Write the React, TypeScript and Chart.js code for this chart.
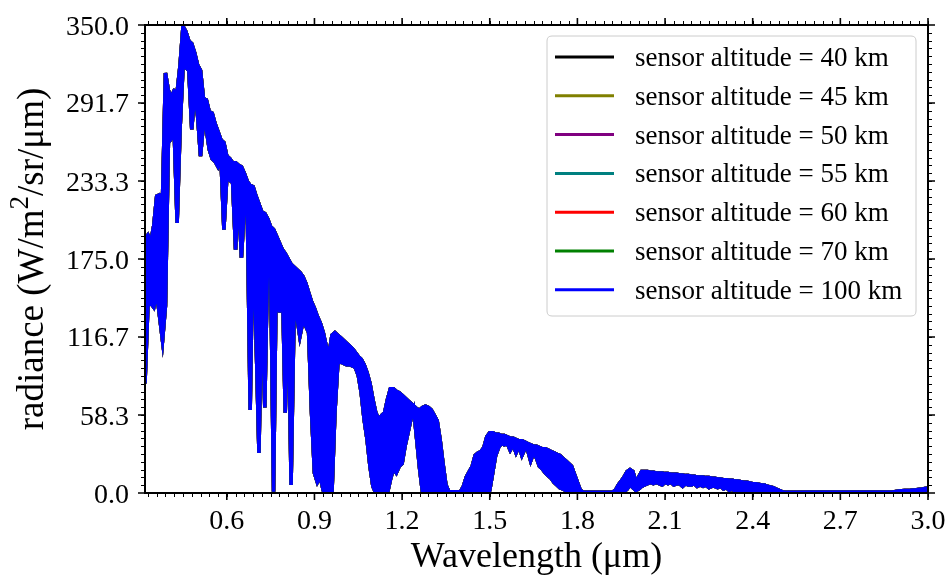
import React, { useEffect, useRef } from "react";
import { Chart, registerables } from "chart.js";

Chart.register(...registerables);

// Wavelength samples (µm) and the upper / lower envelope of the dense spectrum (W/m²/sr/µm)
const wavelength = [
  0.32, 0.33, 0.34, 0.35, 0.36, 0.37, 0.38, 0.39, 0.40, 0.41, 0.42, 0.43, 0.44, 0.45, 0.46, 0.47, 0.48, 0.49,
  0.50, 0.51, 0.52, 0.53, 0.54, 0.55, 0.56, 0.57, 0.58, 0.59, 0.60, 0.61, 0.62, 0.63, 0.64, 0.65, 0.66, 0.67,
  0.68, 0.69, 0.70, 0.71, 0.72, 0.73, 0.74, 0.75, 0.76, 0.77, 0.78, 0.79, 0.80, 0.81, 0.82, 0.83, 0.84, 0.85,
  0.86, 0.87, 0.88, 0.89, 0.90, 0.91, 0.92, 0.93, 0.94, 0.95, 0.96, 0.97, 0.98, 0.99, 1.00, 1.01, 1.02, 1.03,
  1.04, 1.05, 1.06, 1.07, 1.08, 1.09, 1.10, 1.11, 1.12, 1.13, 1.14, 1.15, 1.16, 1.17, 1.18, 1.19, 1.20, 1.21,
  1.22, 1.23, 1.24, 1.25, 1.26, 1.27, 1.28, 1.29, 1.30, 1.31, 1.32, 1.33, 1.34, 1.35, 1.36, 1.40, 1.41, 1.42,
  1.43, 1.44, 1.45, 1.46, 1.47, 1.48, 1.49, 1.50, 1.51, 1.52, 1.53, 1.54, 1.55, 1.56, 1.57, 1.58, 1.59, 1.60,
  1.61, 1.62, 1.63, 1.64, 1.65, 1.66, 1.67, 1.68, 1.69, 1.70, 1.71, 1.72, 1.73, 1.74, 1.75, 1.76, 1.77, 1.78,
  1.79, 1.80, 1.81, 1.82, 1.92, 1.93, 1.94, 1.95, 1.96, 1.97, 1.98, 1.99, 2.00, 2.01, 2.02, 2.03, 2.04, 2.05,
  2.06, 2.07, 2.08, 2.09, 2.10, 2.11, 2.12, 2.13, 2.14, 2.15, 2.16, 2.17, 2.18, 2.19, 2.20, 2.21, 2.22, 2.23,
  2.24, 2.25, 2.26, 2.27, 2.28, 2.29, 2.30, 2.31, 2.32, 2.33, 2.34, 2.35, 2.36, 2.37, 2.38, 2.39, 2.40, 2.41,
  2.42, 2.43, 2.44, 2.45, 2.46, 2.47, 2.48, 2.49, 2.50, 2.51, 2.60, 2.70, 2.80, 2.88, 2.90, 2.92, 2.94, 2.96,
  2.98, 3.00,
];

const radianceUpper = [
  190, 193, 188, 200, 222, 223, 221, 314, 301, 296, 301, 300, 320, 349, 345, 338, 336, 329,
  320, 316, 295, 294, 285, 284, 276, 270, 264, 262, 252, 250, 247, 247, 245, 244, 239, 233,
  230, 229, 222, 216, 210, 209, 205, 199, 197, 192, 187, 182, 179, 175, 171, 169, 167, 165,
  162, 157, 150, 143, 138, 132, 127, 120, 110, 104, 118, 120, 118, 116, 114, 112, 110, 108,
  105, 102, 100, 96, 90, 82, 70, 60, 55, 58, 60, 70, 78, 78, 76, 75, 73, 71,
  69, 67, 65, 63, 62, 64, 65, 64, 62, 58, 54, 40, 22, 6, 1, 1, 5, 12,
  16, 20, 28, 30, 31, 34, 42, 45, 45, 44, 44, 43, 43, 42, 41, 41, 40, 39,
  39, 38, 37, 36, 35, 35, 34, 33, 33, 32, 31, 30, 29, 28, 26, 24, 22, 20,
  14, 8, 2, 0.6, 0.6, 2, 6, 9, 12, 16, 17.5, 16, 8, 12, 16, 16, 16, 15.5,
  15.5, 15, 15, 15, 14.5, 14.5, 14, 14, 14, 13.5, 13.5, 13, 13, 12.5, 12.5, 12, 12, 12,
  11.5, 11.5, 11, 11, 10.5, 10.5, 10, 10, 9.5, 9.5, 9, 9, 8.5, 8, 8, 7.5, 7, 7,
  6.5, 6, 6, 5, 4.5, 4, 3, 2, 1, 0.6, 0.6, 0.6, 0.6, 0.7, 1.5, 1.8, 2.0, 2.4,
  3.0, 3.7,
];

const radianceLower = [
  82, 140, 142, 139, 150, 132, 114, 140, 262, 265, 270, 202, 272, 318, 318, 316, 272, 300,
  282, 252, 276, 272, 257, 250, 248, 244, 250, 197, 236, 234, 232, 182, 226, 176, 214, 214,
  62, 200, 117, 30, 150, 64, 180, 170, 1, 178, 135, 160, 60, 150, 6, 132, 132, 117,
  128, 125, 120, 60, 15, 8, 12, 2, 0, 0, 0, 60, 97, 98, 97, 96, 96, 95,
  94, 88, 75, 55, 40, 20, 5, 0, 0, 0, 0, 0, 10, 18, 15, 20, 22, 35,
  45, 55, 62, 40, 18, 0, 0, 0, 0, 0, 0, 0, 0, 0, 0, 0, 0, 0,
  0, 0, 0, 0, 0, 0, 0, 2, 15, 28, 34, 37, 36, 37, 32, 36, 30, 35,
  28, 33, 32, 24, 30, 26, 20, 18, 15, 13, 11, 8, 6, 4, 3, 2, 1, 1,
  0, 0, 0, 0, 0, 0, 0, 0, 1, 3, 6, 4, 2, 3, 5, 6, 7, 8,
  7, 8, 7, 6, 8, 7, 8, 6, 7, 7, 5, 7, 6, 6, 7, 5, 6, 5,
  6, 4, 5, 5, 4, 5, 3, 4, 2, 3, 1, 1, 0, 0, 0, 0, 0, 0,
  0, 0, 0, 0, 0, 0, 0, 0, 0, 0, 0.3, 0.3, 0.3, 0.3, 0.5, 0.8, 1.0, 1.2,
  1.5, 2.0,
];

const seriesLabels = [
  "sensor altitude = 40 km",
  "sensor altitude = 45 km",
  "sensor altitude = 50 km",
  "sensor altitude = 55 km",
  "sensor altitude = 60 km",
  "sensor altitude = 70 km",
  "sensor altitude = 100 km",
];
const seriesColors = ["#000000", "#808000", "#800080", "#008080", "#ff0000", "#008000", "#0000ff"];

const xTickValues = [0.6, 0.9, 1.2, 1.5, 1.8, 2.1, 2.4, 2.7, 3.0];
const yTickValues = [0, 58.3333, 116.6667, 175, 233.3333, 291.6667, 350];
const X_MIN = 0.32;
const X_MAX = 3.0;
const Y_MIN = 0;
const Y_MAX = 350;
const X_MINOR_STEP = 0.03;
const Y_MINOR_STEP = 350 / 60;

const xTitle = "Wavelength (\u03bcm)";
const yTitleParts = ["radiance (W/m", "2", "/sr/\u03bcm)"];

const SERIF = '"Liberation Serif", "Times New Roman", serif';

const decorPlugin = {
  id: "decor",
  afterDraw(chart: any) {
    const { ctx, chartArea } = chart;
    const { left, right, top, bottom } = chartArea;
    const xs = chart.scales.x;
    const ys = chart.scales.y;
    ctx.save();
    ctx.strokeStyle = "#000";
    ctx.fillStyle = "#000";

    // minor ticks
    ctx.lineWidth = 1;
    ctx.beginPath();
    for (let k = 1; ; k++) {
      const v = Math.round((X_MIN + k * 0.01) * 1000) / 1000;
      if (v > X_MAX) break;
      const r = Math.round(v * 1000) % Math.round(X_MINOR_STEP * 1000);
      if (r !== 0) continue;
      const px = Math.round(xs.getPixelForValue(v)) + 0.5;
      ctx.moveTo(px, bottom);
      ctx.lineTo(px, bottom + 4);
      ctx.moveTo(px, top);
      ctx.lineTo(px, top - 4);
    }
    for (let k = 1; k < 60; k++) {
      const py = Math.round(ys.getPixelForValue(k * Y_MINOR_STEP)) + 0.5;
      ctx.moveTo(left, py);
      ctx.lineTo(left - 4, py);
      ctx.moveTo(right, py);
      ctx.lineTo(right + 4, py);
    }
    ctx.stroke();

    // major ticks
    ctx.lineWidth = 1.6;
    ctx.beginPath();
    xTickValues.forEach((v) => {
      const px = xs.getPixelForValue(v);
      ctx.moveTo(px, bottom);
      ctx.lineTo(px, bottom + 7);
      ctx.moveTo(px, top);
      ctx.lineTo(px, top - 7);
    });
    yTickValues.forEach((v) => {
      const py = ys.getPixelForValue(v);
      ctx.moveTo(left, py);
      ctx.lineTo(left - 7, py);
      ctx.moveTo(right, py);
      ctx.lineTo(right + 7, py);
    });
    ctx.stroke();

    // frame
    ctx.lineWidth = 2;
    ctx.strokeRect(left, top, right - left, bottom - top);

    // tick labels
    ctx.font = "28px " + SERIF;
    ctx.textAlign = "center";
    ctx.textBaseline = "alphabetic";
    xTickValues.forEach((v) => {
      ctx.fillText(v.toFixed(1), xs.getPixelForValue(v), bottom + 36);
    });
    ctx.textAlign = "right";
    yTickValues.forEach((v) => {
      ctx.fillText(v.toFixed(1), left - 16, ys.getPixelForValue(v) + 9.5);
    });

    // x title
    ctx.font = "36px " + SERIF;
    ctx.textAlign = "center";
    ctx.fillText(xTitle, (left + right) / 2, 567);

    // y title with superscript
    ctx.save();
    ctx.translate(43, (top + bottom) / 2);
    ctx.rotate(-Math.PI / 2);
    ctx.textAlign = "left";
    const mainFont = "37px " + SERIF;
    const supFont = "27px " + SERIF;
    ctx.font = mainFont;
    const w0 = ctx.measureText(yTitleParts[0]).width;
    const w2 = ctx.measureText(yTitleParts[2]).width;
    ctx.font = supFont;
    const w1 = ctx.measureText(yTitleParts[1]).width;
    let cx = -(w0 + w1 + w2) / 2;
    ctx.font = mainFont;
    ctx.fillText(yTitleParts[0], cx, 0);
    cx += w0;
    ctx.font = supFont;
    ctx.fillText(yTitleParts[1], cx, -15);
    cx += w1;
    ctx.font = mainFont;
    ctx.fillText(yTitleParts[2], cx, 0);
    ctx.restore();

    // legend
    const lx = 547, ly = 36, lw = 369, lh = 280, rad = 5;
    ctx.beginPath();
    ctx.moveTo(lx + rad, ly);
    ctx.lineTo(lx + lw - rad, ly);
    ctx.quadraticCurveTo(lx + lw, ly, lx + lw, ly + rad);
    ctx.lineTo(lx + lw, ly + lh - rad);
    ctx.quadraticCurveTo(lx + lw, ly + lh, lx + lw - rad, ly + lh);
    ctx.lineTo(lx + rad, ly + lh);
    ctx.quadraticCurveTo(lx, ly + lh, lx, ly + lh - rad);
    ctx.lineTo(lx, ly + rad);
    ctx.quadraticCurveTo(lx, ly, lx + rad, ly);
    ctx.closePath();
    ctx.fillStyle = "rgba(255,255,255,0.8)";
    ctx.fill();
    ctx.strokeStyle = "#cccccc";
    ctx.lineWidth = 1;
    ctx.stroke();

    ctx.font = "27px " + SERIF;
    ctx.textAlign = "left";
    ctx.textBaseline = "alphabetic";
    seriesLabels.forEach((label, i) => {
      const yy = 57 + i * 38.8;
      ctx.strokeStyle = seriesColors[i];
      ctx.lineWidth = 3;
      ctx.beginPath();
      ctx.moveTo(555, yy);
      ctx.lineTo(614, yy);
      ctx.stroke();
      ctx.fillStyle = "#000";
      ctx.fillText(label, 635, yy + 9);
    });

    ctx.restore();
  },
};

export default function App() {
  const canvasRef = useRef<HTMLCanvasElement | null>(null);

  useEffect(() => {
    document.body.style.margin = "0";
    const canvas = canvasRef.current;
    if (!canvas) return;

    const upperPoints = wavelength.map((w, i) => ({ x: w, y: radianceUpper[i] }));
    const lowerPoints = wavelength.map((w, i) => ({ x: w, y: radianceLower[i] }));

    const datasets: any[] = [];
    seriesLabels.forEach((label, i) => {
      const order = seriesLabels.length - 1 - i;
      datasets.push({
        label,
        data: upperPoints,
        borderColor: seriesColors[i],
        backgroundColor: seriesColors[i],
        borderWidth: 3.5,
        pointRadius: 0,
        fill: "+1",
        tension: 0,
        order,
      });
      datasets.push({
        label: label + " (lower envelope)",
        data: lowerPoints,
        borderColor: seriesColors[i],
        backgroundColor: seriesColors[i],
        borderWidth: 3.5,
        pointRadius: 0,
        fill: false,
        tension: 0,
        order,
      });
    });

    const chart = new Chart(canvas, {
      type: "line",
      data: { datasets },
      options: {
        animation: false,
        responsive: false,
        maintainAspectRatio: false,
        devicePixelRatio: 1,
        layout: { padding: { top: 25, right: 21, left: 0, bottom: 0 } },
        plugins: {
          legend: { display: false },
          tooltip: { enabled: false },
          title: { display: false },
        },
        scales: {
          x: {
            type: "linear",
            min: X_MIN,
            max: X_MAX,
            afterBuildTicks: (s: any) => {
              s.ticks = xTickValues.map((v) => ({ value: v }));
            },
            afterFit: (s: any) => {
              s.height = 82;
            },
            ticks: { display: false },
            grid: { display: false },
            border: { display: false },
          },
          y: {
            type: "linear",
            min: Y_MIN,
            max: Y_MAX,
            afterBuildTicks: (s: any) => {
              s.ticks = yTickValues.map((v) => ({ value: v }));
            },
            afterFit: (s: any) => {
              s.width = 145;
            },
            ticks: { display: false },
            grid: { display: false },
            border: { display: false },
          },
        },
      },
      plugins: [decorPlugin],
    } as any);

    return () => chart.destroy();
  }, []);

  return (
    <div style={{ width: 949, height: 575 }}>
      <canvas ref={canvasRef} width={949} height={575} style={{ display: "block" }} />
    </div>
  );
}
